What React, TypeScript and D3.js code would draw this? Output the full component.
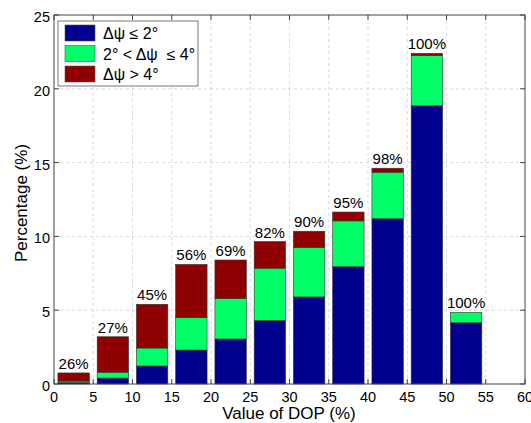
import React from "react";
import * as d3 from "d3";

const binStarts = [0, 5, 10, 15, 20, 25, 30, 35, 40, 45, 50];
const low = [0.1, 0.4, 1.22, 2.3, 3.05, 4.3, 5.9, 7.95, 11.2, 18.85, 4.15];
const mid = [0.1, 0.4, 1.22, 2.2, 2.75, 3.55, 3.35, 3.1, 3.15, 3.4, 0.7];
const high = [0.55, 2.4, 2.96, 3.6, 2.6, 1.8, 1.1, 0.6, 0.27, 0.15, 0.0];
const pctLabels = ["26%", "27%", "45%", "56%", "69%", "82%", "90%", "95%", "98%", "100%", "100%"];
const xTicks = [0, 5, 10, 15, 20, 25, 30, 35, 40, 45, 50, 55, 60];
const yTicks = [0, 5, 10, 15, 20, 25];
const seriesNames = ["Δψ ≤ 2°", "2° < Δψ \u00a0≤ 4°", "Δψ > 4°"];
const colors = ["#00008F", "#00FF66", "#8F0000"];

const W = 531, H = 423;
const left = 54, right = 525, top = 15, bottom = 384;
const font = "'Liberation Sans', Arial, sans-serif";

export default function App() {
  const x = d3.scaleLinear().domain([0, 60]).range([left, right]);
  const y = d3.scaleLinear().domain([0, 25]).range([bottom, top]);
  const series = [low, mid, high];
  const barW = 4;

  return (
    <svg width={W} height={H} style={{ position: "absolute", left: 0, top: 0, background: "#fff" }}>
      <rect x={0} y={0} width={W} height={H} fill="#fff" />
      {xTicks.slice(1, -1).map((t) => (
        <line key={"gx" + t} x1={x(t)} x2={x(t)} y1={top} y2={bottom} stroke="#d0d0d0" strokeDasharray="3,3" strokeWidth={0.8} />
      ))}
      {yTicks.slice(1, -1).map((t) => (
        <line key={"gy" + t} x1={left} x2={right} y1={y(t)} y2={y(t)} stroke="#d0d0d0" strokeDasharray="3,3" strokeWidth={0.8} />
      ))}
      {binStarts.map((s, i) => {
        const cx = s + 2.5;
        let acc = 0;
        const rects = series.map((ser, k) => {
          const v0 = acc;
          acc += ser[i];
          if (ser[i] <= 0) return null;
          return (
            <rect key={k} x={x(cx - barW / 2)} width={x(cx + barW / 2) - x(cx - barW / 2)}
              y={y(acc)} height={y(v0) - y(acc)} fill={colors[k]} stroke="#333" strokeWidth={0.6} />
          );
        });
        return (
          <g key={"b" + i}>
            {rects}
            <text x={x(cx)} y={y(acc) - 4} textAnchor="middle" fontFamily={font} fontSize={15} fill="#000">
              {pctLabels[i]}
            </text>
          </g>
        );
      })}
      <rect x={left} y={top} width={right - left} height={bottom - top} fill="none" stroke="#444" strokeWidth={1} />
      {xTicks.map((t) => (
        <g key={"xt" + t}>
          <line x1={x(t)} x2={x(t)} y1={bottom} y2={bottom - 5} stroke="#444" />
          <line x1={x(t)} x2={x(t)} y1={top} y2={top + 5} stroke="#444" />
          <text x={x(t)} y={402} textAnchor="middle" fontFamily={font} fontSize={14.5} fill="#000">{t}</text>
        </g>
      ))}
      {yTicks.map((t) => (
        <g key={"yt" + t}>
          <line x1={left} x2={left + 5} y1={y(t)} y2={y(t)} stroke="#444" />
          <line x1={right} x2={right - 5} y1={y(t)} y2={y(t)} stroke="#444" />
          <text x={left - 4} y={y(t) + 7} textAnchor="end" fontFamily={font} fontSize={14.5} fill="#000">{t}</text>
        </g>
      ))}
      <text x={289} y={419} textAnchor="middle" fontFamily={font} fontSize={17} fill="#000">Value of DOP (%)</text>
      <text transform={`translate(27,203) rotate(-90)`} textAnchor="middle" fontFamily={font} fontSize={17} fill="#000">Percentage (%)</text>
      <rect x={58} y={21} width={140} height={65} fill="#fff" stroke="#555" strokeWidth={0.8} />
      {seriesNames.map((n, k) => (
        <g key={"lg" + k}>
          <rect x={65} y={25 + k * 20.5} width={30} height={16} fill={colors[k]} stroke="#555" strokeWidth={0.6} />
          <text x={103} y={39 + k * 20.5} fontFamily={font} fontSize={16} fill="#000">{n}</text>
        </g>
      ))}
    </svg>
  );
}
